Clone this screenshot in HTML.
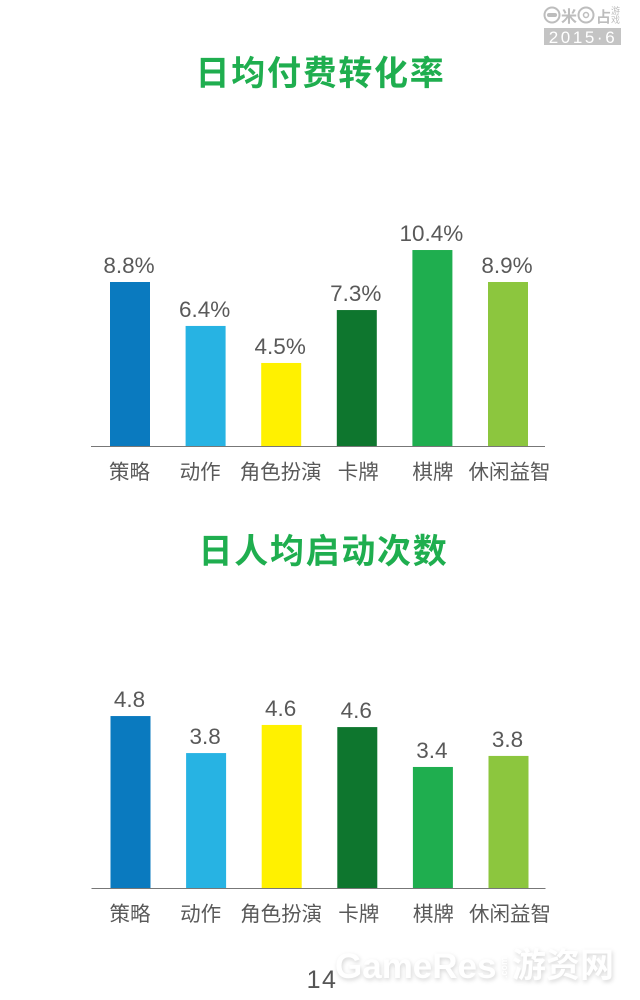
<!DOCTYPE html>
<html lang="zh">
<head>
<meta charset="utf-8">
<title>日均付费转化率 / 日人均启动次数</title>
<style>
html,body{margin:0;padding:0;background:#fff;}
#page{position:relative;width:640px;height:1000px;overflow:hidden;background:#fff;}
svg{position:absolute;left:0;top:0;}
text{font-family:"Liberation Sans","Noto Sans CJK SC",sans-serif;}
</style>
</head>
<body>
<div id="page">
<svg id="chart" width="640" height="1000" viewBox="0 0 640 1000" xmlns="http://www.w3.org/2000/svg">
  <g>
    <circle cx="552" cy="15" r="7.5" fill="none" stroke="#bdbdbd" stroke-width="2"/>
    <rect x="547" y="13" width="10" height="4" rx="2" fill="#bdbdbd"/>
    <text x="561" y="22" font-size="16" font-weight="700" fill="#bdbdbd">米</text>
    <circle cx="586" cy="15" r="7.5" fill="none" stroke="#bdbdbd" stroke-width="2"/>
    <circle cx="586" cy="15" r="2.5" fill="none" stroke="#bdbdbd" stroke-width="1.5"/>
    <text x="596" y="22" font-size="15" font-weight="700" fill="#bdbdbd">占</text>
    <text x="611" y="14" font-size="9" fill="#bdbdbd">游</text>
    <text x="611" y="23" font-size="9" fill="#bdbdbd">戏</text>
    <rect x="544" y="28" width="77" height="17" fill="#c4c4c4"/>
    <text x="583" y="43" font-size="17" fill="#fff" text-anchor="middle" letter-spacing="2.6">2015·6</text>
  </g>
  <text x="320.5" y="85" font-size="34" font-weight="700" fill="#1fae4f" text-anchor="middle" letter-spacing="1.7">日均付费转化率</text>
  <text x="323.5" y="563" font-size="34" font-weight="700" fill="#1fae4f" text-anchor="middle" letter-spacing="1.7">日人均启动次数</text>
  <g id="plots"></g>
  <text x="322" y="988" font-size="25" fill="#555" text-anchor="middle" letter-spacing="1.5">14</text>
  <g style="filter:drop-shadow(1px 2px 2px rgba(0,0,0,.16));">
    <text x="335" y="978" font-size="35" font-weight="700" fill="#fff">GameRes</text>
    <text x="507" y="978" font-size="9" font-weight="700" fill="#fff" transform="rotate(-90 507 978)">.com</text>
    <text x="512" y="977" font-size="34" font-weight="700" fill="#fff">游资网</text>
  </g>
</svg>
</div>
<script>
var categories = ['策略', '动作', '角色扮演', '卡牌', '棋牌', '休闲益智'];
var conversionValues = [8.77, 6.42, 4.44, 7.27, 10.48, 8.77];
var launchValues = [4.83, 3.79, 4.58, 4.52, 3.4, 3.71];
var conversionLabels = ['8.8%', '6.4%', '4.5%', '7.3%', '10.4%', '8.9%'];
var launchLabels = ['4.8', '3.8', '4.6', '4.6', '3.4', '3.8'];
var barColors = ['#0a7abf', '#27b3e3', '#fff100', '#0e762e', '#1fae4f', '#8cc63e'];

var labelShift = {'动作': -5, '卡牌': 2, '棋牌': 1, '休闲益智': 2};
var NS = 'http://www.w3.org/2000/svg';
var plots = document.getElementById('plots');

function xCenter(i, offset) {
  return 130 + offset + i * 75.6;
}

function drawChart(key, values, labels, baseline, scale, offset) {
  var chart = document.createElementNS(NS, 'g');
  
  
  plots.appendChild(chart);

  function yScale(v) {
    return baseline - v * scale;
  }

  values.forEach(function (v, i) {
    var cx = xCenter(i, offset);
    var bar = document.createElementNS(NS, 'rect');
    bar.setAttribute('x', cx - 20);
    bar.setAttribute('y', yScale(v));
    bar.setAttribute('width', 40);
    bar.setAttribute('height', baseline - yScale(v));
    bar.setAttribute('fill', barColors[i]);
    
    
    chart.appendChild(bar);

    var value = document.createElementNS(NS, 'text');
    value.setAttribute('x', cx - 1);
    value.setAttribute('y', yScale(v) - 9);
    value.setAttribute('font-size', 22.5);
    value.setAttribute('fill', '#595959');
    value.setAttribute('text-anchor', 'middle');
    value.textContent = labels[i];
    
    
    chart.appendChild(value);

    var cat = document.createElementNS(NS, 'text');
    cat.setAttribute('x', cx + (labelShift[categories[i]] || 0) - 0.5);
    cat.setAttribute('y', baseline + 33);
    cat.setAttribute('font-size', 20.5);
    cat.setAttribute('fill', '#595959');
    cat.setAttribute('text-anchor', 'middle');
    cat.textContent = categories[i];
    
    
    chart.appendChild(cat);
  });

  var axis = document.createElementNS(NS, 'line');
  axis.setAttribute('x1', 91 + offset);
  axis.setAttribute('x2', 545 + offset);
  axis.setAttribute('y1', baseline + 0.5);
  axis.setAttribute('y2', baseline + 0.5);
  axis.setAttribute('stroke', '#777');
  axis.setAttribute('stroke-width', 1);
  
  
  chart.appendChild(axis);
}

drawChart('conversion', conversionValues, conversionLabels, 446, 18.7, 0);
drawChart('launches', launchValues, launchLabels, 888, 35.6, 0.5);
</script>
</body>
</html>
